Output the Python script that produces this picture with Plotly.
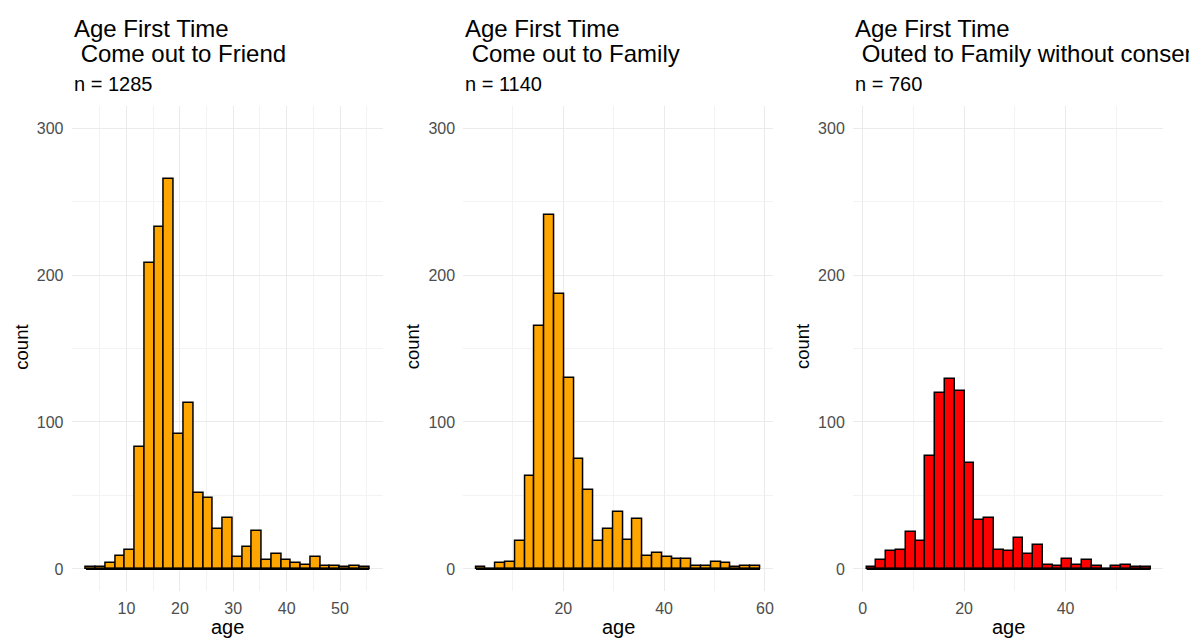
import plotly.graph_objects as go

# ---- data (histogram counts, 29 bins per panel) ----
friend_counts = [1, 1, 4, 9, 13, 83, 208, 233, 265, 92, 113, 52, 48, 27, 35,
                 8, 15, 26, 6, 10, 6, 4, 3, 8, 2, 2, 1, 2, 1]
family_counts = [1, 0, 4, 5, 19, 63, 165, 241, 187, 130, 75, 54, 19, 27, 39,
                 20, 34, 9, 11, 8, 7, 7, 2, 2, 5, 4, 1, 2, 2]
outed_counts = [1, 6, 12, 13, 25, 19, 77, 120, 129, 121, 72, 33, 35, 13, 12,
                21, 10, 16, 3, 2, 7, 3, 6, 2, 0, 2, 3, 1, 1]

# bin layout (first edge, bin width in years)
friend_bins = (2.41, 1.83)
family_bins = (2.68, 1.943)
outed_bins = (0.79, 1.93)

titles = ["Age First Time", "Age First Time", "Age First Time"]
subtitles2 = ["Come out to Friend", "Come out to Family", "Outed to Family without consent"]
n_labels = ["n = 1285", "n = 1140", "n = 760"]
fills = ["#FFA500", "#FFA500", "#FF0000"]

x_ranges = [[-0.27, 58.0], [0.16, 61.55], [-1.9, 59.2]]
x_major = [[10, 20, 30, 40, 50], [20, 40, 60], [0, 20, 40]]
x_minor = [[5, 15, 25, 35, 45, 55], [10, 30, 50], [10, 30, 50]]
y_major = [0, 100, 200, 300]
y_minor = [50, 150, 250]

W, H = 1189, 638
x_domains_px = [(71.7, 382.7), (463.3, 772.7), (853.0, 1163.0)]
y_top_px, y_bot_px = 106.0, 591.0

FONT = "Liberation Sans, Arial, Helvetica, sans-serif"
GRID = "#EBEBEB"
GRID_MINOR = "#F3F3F3"

fig = go.Figure()

datasets = [(friend_counts, friend_bins), (family_counts, family_bins), (outed_counts, outed_bins)]

for i, (counts, (start, width)) in enumerate(datasets):
    k = "" if i == 0 else str(i + 1)
    centers = [start + (j + 0.5) * width for j in range(len(counts))]
    # baseline (zero-height bins drawn as a black line, as ggplot does)
    fig.add_trace(go.Scatter(
        x=[start, start + width * len(counts)], y=[0, 0], mode="lines",
        line=dict(color="black", width=2.2), hoverinfo="skip", showlegend=False,
        xaxis="x" + k, yaxis="y" + k))
    fig.add_trace(go.Bar(
        x=centers, y=counts, width=[width] * len(counts),
        marker=dict(color=fills[i], line=dict(color="black", width=1.5)),
        showlegend=False, xaxis="x" + k, yaxis="y" + k))

layout = dict(
    width=W, height=H, margin=dict(l=0, r=0, t=0, b=0),
    paper_bgcolor="white", plot_bgcolor="white",
    font=dict(family=FONT, color="black"),
    barmode="overlay", bargap=0,
)

annotations = []
for i in range(3):
    k = "" if i == 0 else str(i + 1)
    x0, x1 = x_domains_px[i]
    dom = [x0 / W, x1 / W]
    layout["xaxis" + k] = dict(
        domain=dom, range=x_ranges[i], tickvals=x_major[i],
        showgrid=True, gridcolor=GRID, gridwidth=1.1, zeroline=False,
        showline=False, ticks="outside", ticklen=3, tickcolor="rgba(0,0,0,0)",
        tickfont=dict(size=16, color="#4D4D4D", family=FONT),
        minor=dict(tickvals=x_minor[i], showgrid=True, gridcolor=GRID_MINOR, gridwidth=0.6),
        anchor="y" + k, fixedrange=True,
    )
    layout["yaxis" + k] = dict(
        domain=[1 - y_bot_px / H, 1 - y_top_px / H], range=[-15, 315],
        tickvals=y_major, showgrid=True, gridcolor=GRID, gridwidth=1.1,
        zeroline=False, showline=False, ticks="outside", ticklen=4,
        tickcolor="rgba(0,0,0,0)",
        tickfont=dict(size=16, color="#4D4D4D", family=FONT),
        minor=dict(tickvals=y_minor, showgrid=True, gridcolor=GRID_MINOR, gridwidth=0.6),
        anchor="x" + k, fixedrange=True,
    )
    xl = x0 / W
    annotations += [
        dict(text=titles[i], x=xl, y=1 - 28 / H, xref="paper", yref="paper",
             xanchor="left", yanchor="middle", showarrow=False,
             font=dict(size=24, color="black", family=FONT)),
        dict(text="\u00a0" + subtitles2[i], x=xl, y=1 - 53 / H, xref="paper", yref="paper",
             xanchor="left", yanchor="middle", showarrow=False,
             font=dict(size=24, color="black", family=FONT)),
        dict(text=n_labels[i], x=xl, y=1 - 84 / H, xref="paper", yref="paper",
             xanchor="left", yanchor="middle", showarrow=False,
             font=dict(size=20, color="black", family=FONT)),
        dict(text="age", x=(x0 + x1) / 2 / W, y=1 - 627 / H, xref="paper", yref="paper",
             xanchor="center", yanchor="middle", showarrow=False,
             font=dict(size=20, color="black", family=FONT)),
        dict(text="count", x=(x0 - 51) / W, y=1 - 347 / H, xref="paper", yref="paper",
             xanchor="center", yanchor="middle", showarrow=False, textangle=-90,
             font=dict(size=18.5, color="black", family=FONT)),
    ]

layout["annotations"] = annotations
fig.update_layout(**layout)
fig.write_html("out.html", config={"displayModeBar": False},
               post_script="document.body.style.margin='0';document.body.style.overflow='hidden';")
